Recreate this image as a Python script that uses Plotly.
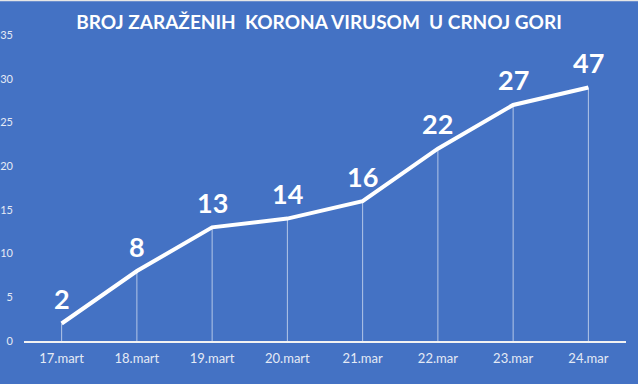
import plotly.graph_objects as go

categories = ["17.mart", "18.mart", "19.mart", "20.mart", "21.mar", "22.mar", "23.mar", "24.mar"]
values = [2, 8, 13, 14, 16, 22, 27, 29]
labels = ["2", "8", "13", "14", "16", "22", "27", "47"]
y_ticks = [0, 5, 10, 15, 20, 25, 30, 35]

BG = "#4472C4"
TICK_COLOR = "#E4EAF5"

fig = go.Figure()
fig.add_trace(go.Scatter(
    x=categories, y=values, mode="lines",
    line=dict(color="white", width=4),
    error_y=dict(type="data", symmetric=False, array=[0] * len(values),
                 arrayminus=values, width=0, thickness=1,
                 color="rgba(255,255,255,0.6)"),
    hoverinfo="skip", showlegend=False,
))

for c, v, t in zip(categories, values, labels):
    fig.add_annotation(x=c, y=v, text=t, showarrow=False, yanchor="middle",
                       yshift=25, font=dict(family="Lato", size=27, color="white", weight="bold"))

fig.update_layout(
    width=638, height=384,
    paper_bgcolor=BG, plot_bgcolor=BG,
    margin=dict(l=24, r=12, t=35, b=43, autoexpand=False),
    title=dict(text="BROJ ZARAŽENIH\u00a0 KORONA VIRUSOM\u00a0 U CRNOJ GORI",
               x=0.5, xanchor="center", y=1 - 22 / 384, yanchor="middle",
               font=dict(family="Lato", size=19, color="white", weight="bold")),
    xaxis=dict(range=[-0.5, len(categories) - 0.5], showgrid=False, zeroline=False,
               showline=True, linecolor="#F2F2F2", linewidth=1.5,
               ticks="", tickfont=dict(family="Lato", size=13, color=TICK_COLOR),
               ticklabelstandoff=5, fixedrange=True, automargin=False),
    yaxis=dict(range=[0, 35], tickvals=y_ticks, showgrid=False, zeroline=False,
               showline=False, ticks="",
               tickfont=dict(family="Lato", size=11, color=TICK_COLOR),
               ticklabelstandoff=10, fixedrange=True, automargin=False),
    shapes=[dict(type="line", xref="paper", yref="paper", x0=-0.1, x1=1.1,
                 y0=1 + 35 / 306 - 0.5 / 306, y1=1 + 35 / 306 - 0.5 / 306,
                 line=dict(color="#E6E6E6", width=1.5))],
)

fig.write_html("out.html", config={"displayModeBar": False})
